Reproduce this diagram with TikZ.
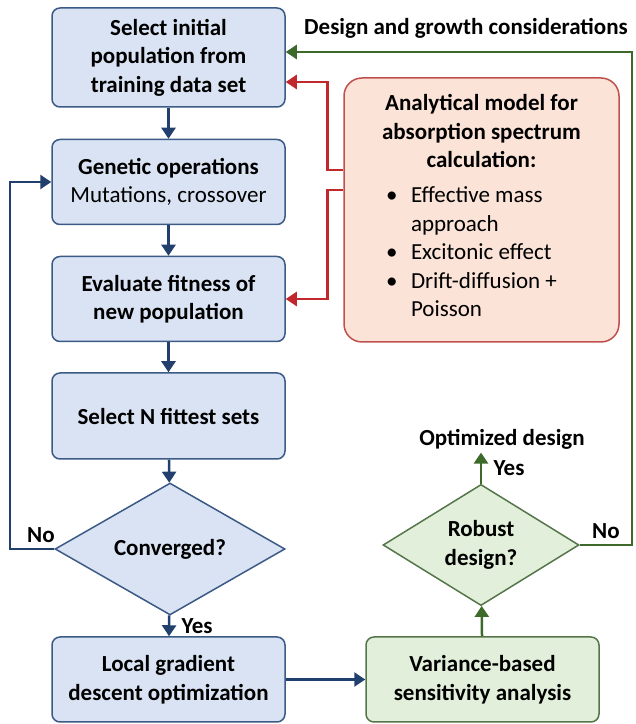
\documentclass[tikz,border=0pt]{standalone}
\usepackage{fontspec}
\setmainfont{Carlito}
\usetikzlibrary{shapes.geometric,arrows.meta}

\definecolor{bluefill}{HTML}{DAE3F3}
\definecolor{blueline}{HTML}{3C5A86}
\definecolor{bluearrow}{HTML}{22406E}
\definecolor{greenfill}{HTML}{E2EFDA}
\definecolor{greenline}{HTML}{55764A}
\definecolor{greenarrow}{HTML}{3D6A2B}
\definecolor{redfill}{HTML}{FBE3D8}
\definecolor{redline}{HTML}{C0504D}
\definecolor{redarrow}{HTML}{C0282D}

\newcommand{\bigfont}{\fontsize{23}{28.5}\selectfont}

\tikzset{
    stepbox/.style={draw=blueline, fill=bluefill, line width=1.5pt, rounded corners=8pt,
        minimum width=233pt, minimum height=85pt, align=center, font=\bigfont\bfseries},
    greenbox/.style={stepbox, draw=greenline, fill=greenfill},
    decision/.style={diamond, draw=blueline, fill=bluefill, line width=1.5pt, inner sep=0pt,
        align=center, font=\bigfont\bfseries},
    label/.style={font=\bigfont\bfseries},
    bluearrow/.style={draw=bluearrow, line width=2.5pt, -{Triangle[width=14pt,length=11pt]}},
    greenarrowline/.style={bluearrow, draw=greenarrow},
    redarrowline/.style={bluearrow, draw=redarrow},
}

\begin{document}
\begin{tikzpicture}[x=1pt, y=1pt]
    \useasboundingbox (0,0) rectangle (636,724);

    % genetic algorithm loop
    \node[stepbox, minimum height=99pt] (init) at (168.5,666.5) {Select initial\\population from\\training data set};
    \node[stepbox] (genetic) at (168.5,542) {Genetic operations\\\mdseries Mutations, crossover};
    \node[stepbox] (evaluate) at (168.5,425) {Evaluate fitness of\\new population};
    \node[stepbox, minimum height=86pt] (select) at (168.5,308) {Select N fittest sets};
    \node[decision, minimum width=230pt, minimum height=112pt] (conv) at (170,175) {Converged?};
    \node[stepbox] (local) at (168.5,44.5) {Local gradient\\descent optimization};

    % robustness check
    \node[greenbox] (variance) at (482.5,44.5) {Variance-based\\sensitivity analysis};
    \node[decision, draw=greenline, fill=greenfill, minimum width=196pt, minimum height=110pt] (robust) at (481,179) {Robust\\design?};
    \node[label] (opt) at (502,285) {Optimized design};
    \node[label] (design) at (466,696) {Design and growth considerations};

    % analytical model
    \node[draw=redline, fill=redfill, line width=1.5pt, rounded corners=18pt,
        minimum width=275pt, minimum height=264pt, align=center, font=\bigfont] (model) at (481.5,514)
        {\textbf{Analytical model for}\\\textbf{absorption spectrum}\\\textbf{calculation:}\\[14pt]
        \begin{tabular}{@{}p{25pt}@{}l@{}}
        \textbullet & Effective mass\\
                    & approach\\
        \textbullet & Excitonic effect\\
        \textbullet & Drift-diffusion +\\
                    & Poisson
        \end{tabular}\hspace*{20pt}};

    \draw[bluearrow] (init) -- (genetic);
    \draw[bluearrow] (genetic) -- (evaluate);
    \draw[bluearrow] (evaluate) -- (select);
    \draw[bluearrow] (select) -- (conv);
    \draw[bluearrow] (conv) -- node[label, right=8pt] {Yes} (local);
    \draw[bluearrow] (conv.west) -- node[label, above=2pt, pos=0.3] {No} (10,175) |- (genetic.west);
    \draw[bluearrow] (local) -- (variance);

    \draw[greenarrowline] (variance) -- (robust);
    \draw[greenarrowline] (robust.north) -- node[label, right=8pt] {Yes} (robust.north |- opt.south);
    \draw[greenarrowline] (robust.east) -- node[label, above=2pt] {No} (632,179) |- ([yshift=5.5pt]init.east);

    \draw[redarrowline] ([yshift=40pt]model.west) -- ++(-16,0) |- ([yshift=-24.5pt]init.east);
    \draw[redarrowline] ([yshift=20pt]model.west) -- ++(-16,0) |- (evaluate.east);
\end{tikzpicture}
\end{document}
